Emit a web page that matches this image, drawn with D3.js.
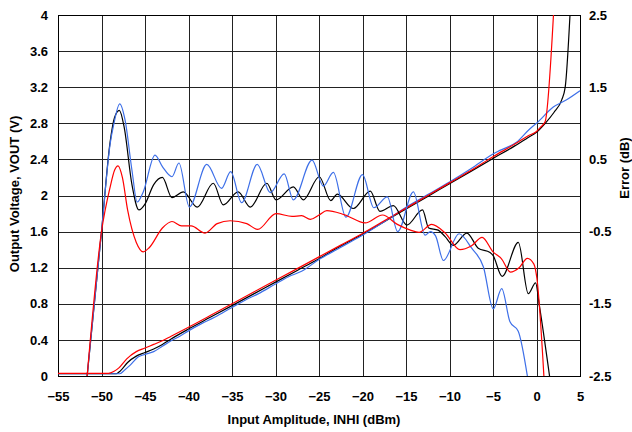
<!DOCTYPE html>
<html>
<head>
<meta charset="utf-8">
<script src="https://cdn.jsdelivr.net/npm/d3@7"></script>
<style>
  body { margin: 0; background: #fff; }
  text { font-family: "Liberation Sans", Arial, sans-serif; font-weight: bold; font-size: 13px; fill: #000; }
</style>
</head>
<body>
<svg width="632" height="432"></svg>
<script>
// Tick values
const dbTicks = [-55, -50, -45, -40, -35, -30, -25, -20, -15, -10, -5, 0, 5];
const voltTicks = [0, 0.4, 0.8, 1.2, 1.6, 2, 2.4, 2.8, 3.2, 3.6, 4];
const errTicks = [-2.5, -1.5, -0.5, 0.5, 1.5, 2.5];

// Output voltage (V) vs input (dBm)
const redVoutX = [-55, -49.2, -48.6, -48, -47.1, -46, -45, -44, -43, -42, -40, -37.5, -35, -32.5, -30, -27.5, -25, -22.5, -20, -17.5, -15, -12.5, -10, -7.5, -5, -2.5, -1, 0, 0.5, 1.0, 1.95];
const redVout = [0.03, 0.03, 0.05, 0.09, 0.19, 0.27, 0.31, 0.35, 0.39, 0.44, 0.54, 0.67, 0.80, 0.93, 1.06, 1.19, 1.32, 1.45, 1.58, 1.72, 1.86, 2.00, 2.14, 2.28, 2.43, 2.57, 2.66, 2.71, 2.76, 2.82, 4.0];

const blackVoutX = [-55, -48.3, -47.8, -47, -46, -45, -44, -43, -42, -40, -37.5, -35, -32.5, -30, -27.5, -25, -22.5, -20, -17.5, -15, -12.5, -10, -7.5, -5, -2.5, -1, 0, 1, 2, 2.9, 3.3, 3.85];
const blackVout = [0.025, 0.025, 0.06, 0.15, 0.22, 0.26, 0.30, 0.35, 0.41, 0.52, 0.65, 0.78, 0.91, 1.04, 1.17, 1.30, 1.44, 1.57, 1.71, 1.85, 1.99, 2.13, 2.27, 2.41, 2.55, 2.64, 2.70, 2.80, 2.92, 3.06, 3.2, 4.0];

const blueVoutX = [-55, -47.9, -47.3, -46.7, -45.8, -45, -44, -43, -42, -41, -40, -38.5, -37, -35, -33.5, -32, -30, -28.5, -27, -25, -23, -21.5, -20, -17.5, -15, -12.5, -10, -7.5, -5, -4.2, -2.3, -0.75, 0, 1.93, 3.46, 5];
const blueVout = [0.025, 0.025, 0.07, 0.12, 0.21, 0.24, 0.27, 0.33, 0.39, 0.44, 0.50, 0.58, 0.65, 0.76, 0.84, 0.91, 1.02, 1.10, 1.16, 1.29, 1.40, 1.48, 1.56, 1.71, 1.87, 2.01, 2.15, 2.30, 2.46, 2.50, 2.59, 2.74, 2.80, 2.98, 3.06, 3.16];

// Error (dB) vs input (dBm)
const blackErrX = [-51.65, -50, -49, -48.5, -47.95, -47.4, -46.5, -45.7, -45, -44, -43, -41.9, -40.6, -39, -37.15, -36, -34.3, -32.9, -31, -29.94, -27.95, -26.8, -24.97, -23.65, -22.9, -21.06, -19.1, -18, -16.45, -14.9, -13.1, -12.4, -11.3, -10.5, -9.56, -8, -6.7, -5.34, -5, -3.95, -2.09, -0.94, -0.1, 0.3, 1.5];
const blackErr = [-2.5, -0.5, 0.75, 1.08, 1.18, 0.95, 0.15, -0.2, -0.12, 0.15, 0.25, -0.03, 0.05, -0.16, 0.17, -0.13, 0.05, -0.16, 0.17, -0.06, 0.12, -0.06, 0.26, -0.07, 0.02, -0.18, 0.06, -0.22, -0.14, -0.41, -0.2, -0.45, -0.48, -0.57, -0.69, -0.52, -0.73, -0.79, -0.83, -1.12, -0.65, -1.36, -1.21, -1.5, -2.5];

const blueErrX = [-51.65, -50, -49, -48.6, -47.9, -47.3, -46.5, -45.9, -45.2, -43.85, -43, -41.9, -41.1, -39.9, -37.9, -36.2, -35.15, -33.9, -32.1, -30.6, -29, -27.95, -25.8, -24.5, -23.35, -21.9, -20, -18.7, -17.15, -15.95, -14.15, -12.8, -12.2, -11.6, -10.7, -8.9, -7.45, -6.1, -4.97, -4, -3.05, -2.1, -1.05];
const blueErr = [-2.5, -0.5, 0.72, 0.98, 1.27, 1.05, 0.35, -0.09, 0.05, 0.56, 0.4, 0.26, 0.45, -0.16, 0.43, 0.1, 0.33, -0.1, 0.43, 0.04, 0.3, -0.06, 0.49, 0.13, 0.32, -0.3, 0.29, -0.17, -0.02, -0.5, 0.05, -0.55, -0.5, -0.56, -0.9, -0.53, -0.73, -0.99, -1.57, -1.29, -1.75, -1.88, -2.5];

const redErrX = [-51.65, -50, -49, -48.5, -48.1, -47.6, -47, -46, -45.2, -44.5, -43, -41.9, -40.8, -39.7, -38.1, -36.7, -35.2, -33.3, -32.05, -29.94, -28.1, -27, -26, -25, -24.1, -22.5, -21.8, -19.7, -17.7, -16, -14.5, -13.5, -12.05, -10.5, -8.8, -7.5, -6.25, -5, -4, -3, -2, -1.05, -0.3, 0.05, 0.85];
const redErr = [-2.5, -0.5, 0.12, 0.35, 0.41, 0.25, -0.2, -0.65, -0.78, -0.72, -0.45, -0.36, -0.42, -0.42, -0.52, -0.39, -0.35, -0.39, -0.47, -0.25, -0.29, -0.28, -0.33, -0.27, -0.21, -0.25, -0.28, -0.38, -0.27, -0.4, -0.48, -0.51, -0.4, -0.52, -0.75, -0.7, -0.58, -0.78, -0.88, -1.06, -1.0, -0.87, -0.95, -1.15, -2.5];

const margin = { top: 15, right: 52, bottom: 56, left: 58 };
const W = 632, H = 432;

const svg = d3.select("svg");

const x = d3.scaleLinear().domain([-55, 5]).range([margin.left, W - margin.right]);
const yV = d3.scaleLinear().domain([0, 4]).range([H - margin.bottom, margin.top]);
const yE = d3.scaleLinear().domain([-2.5, 2.5]).range([H - margin.bottom, margin.top]);

const plotW = W - margin.left - margin.right;
const plotH = H - margin.top - margin.bottom;
const fmt = d => String(+d.toFixed(1));

// grid + left axis
svg.append("g")
    .attr("transform", "translate(" + margin.left + ",0)")
    .call(d3.axisLeft(yV).tickValues(voltTicks).tickFormat(fmt)
        .tickSizeInner(-plotW).tickSizeOuter(0).tickPadding(10))
    .call(g => g.select(".domain").remove())
    .call(g => g.selectAll("line").attr("stroke", "#222").attr("shape-rendering", "crispEdges"));

// grid + bottom axis
svg.append("g")
    .attr("transform", "translate(0," + (H - margin.bottom) + ")")
    .call(d3.axisBottom(x).tickValues(dbTicks).tickFormat(d3.format("d"))
        .tickSizeInner(-plotH).tickSizeOuter(0).tickPadding(16))
    .call(g => g.select(".domain").remove())
    .call(g => g.selectAll("line").attr("stroke", "#222").attr("shape-rendering", "crispEdges"));

// right axis
svg.append("g")
    .attr("transform", "translate(" + (W - margin.right) + ",0)")
    .call(d3.axisRight(yE).tickValues(errTicks).tickFormat(fmt)
        .tickSize(0).tickPadding(9))
    .call(g => g.select(".domain").remove());

svg.selectAll(".tick text")
    .style("font-family", "'Liberation Sans', Arial, sans-serif")
    .style("font-weight", "bold")
    .style("font-size", "13px")
    .attr("fill", "#000");

// frame
svg.append("rect")
    .attr("x", margin.left).attr("y", margin.top)
    .attr("width", plotW).attr("height", plotH)
    .attr("fill", "none").attr("stroke", "#000")
    .attr("shape-rendering", "crispEdges");

svg.append("clipPath").attr("id", "plot")
    .append("rect")
    .attr("x", margin.left).attr("y", margin.top)
    .attr("width", plotW).attr("height", plotH);

const lineV = d3.line().x(d => x(d[0])).y(d => yV(d[1])).curve(d3.curveMonotoneX);
const lineE = d3.line().x(d => x(d[0])).y(d => yE(d[1])).curve(d3.curveMonotoneX);

const series = [
    { xs: blackVoutX, ys: blackVout, color: "#000", line: lineV },
    { xs: blueVoutX, ys: blueVout, color: "#3d6fe8", line: lineV },
    { xs: redVoutX, ys: redVout, color: "#ff0000", line: lineV },
    { xs: blackErrX, ys: blackErr, color: "#000", line: lineE },
    { xs: blueErrX, ys: blueErr, color: "#3d6fe8", line: lineE },
    { xs: redErrX, ys: redErr, color: "#ff0000", line: lineE }
];

const lines = svg.append("g").attr("clip-path", "url(#plot)");
series.forEach(s => {
    lines.append("path")
        .datum(s.xs.map((v, i) => [v, s.ys[i]]))
        .attr("fill", "none")
        .attr("stroke", s.color)
        .attr("stroke-width", 1.2)
        .attr("d", s.line);
});

// axis titles
svg.append("text")
    .attr("x", (margin.left + W - margin.right) / 2 - 5)
    .attr("y", 424)
    .attr("text-anchor", "middle")
    .text("Input Amplitude, INHI (dBm)");

svg.append("text")
    .attr("transform", "translate(19,194) rotate(-90)")
    .attr("text-anchor", "middle")
    .text("Output Voltage, VOUT (V)");

svg.append("text")
    .attr("transform", "translate(629,168) rotate(-90)")
    .attr("text-anchor", "middle")
    .text("Error (dB)");
</script>
</body>
</html>
